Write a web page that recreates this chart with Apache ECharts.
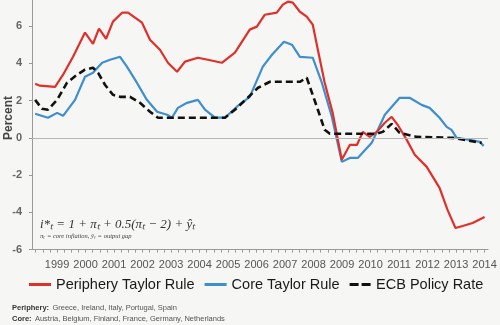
<!DOCTYPE html>
<html><head><meta charset="utf-8">
<script src="https://cdn.jsdelivr.net/npm/echarts@6/dist/echarts.min.js"></script>
<style>html,body{margin:0;padding:0;background:#f6f6f4}#c{width:500px;height:325px}</style>
</head><body><div id="c"></div><script>
// x = fractional year, y = percent
const yearLabels = [1999,2000,2001,2002,2003,2004,2005,2006,2007,2008,2009,2010,2011,2012,2013,2014];
const yTickLabels = [-6,-4,-2,0,2,4,6];
const seriesNames = ['Periphery Taylor Rule','Core Taylor Rule','ECB Policy Rate'];

const peripheryT = [1998.23,1998.40,1998.93,1999.21,1999.56,1999.98,2000.26,2000.47,2000.72,2000.96,2001.28,2001.49,2001.98,2002.26,2002.61,2002.89,2003.21,2003.49,2003.94,2004.29,2004.78,2005.24,2005.76,2006.01,2006.29,2006.71,2006.92,2007.10,2007.27,2007.52,2007.76,2007.97,2008.15,2008.39,2008.67,2008.99,2009.27,2009.52,2009.73,2009.97,2010.22,2010.50,2010.74,2010.95,2011.27,2011.55,2011.97,2012.42,2012.70,2012.98,2013.23,2013.58,2014.00];
const peripheryV = [2.90,2.80,2.74,3.39,4.35,5.65,5.05,5.86,5.32,6.24,6.72,6.72,6.18,5.27,4.73,4.03,3.55,4.09,4.30,4.19,4.03,4.57,5.81,5.97,6.61,6.72,7.15,7.31,7.26,6.77,6.51,6.08,4.73,2.96,1.34,-1.18,-0.38,-0.38,0.32,0.05,0.32,0.81,1.13,0.70,-0.11,-0.91,-1.56,-2.69,-3.87,-4.84,-4.73,-4.57,-4.25];

const coreT = [1998.23,1998.68,1999.00,1999.21,1999.63,1999.98,2000.26,2000.58,2000.86,2001.21,2001.45,2001.80,2002.15,2002.51,2002.86,2003.03,2003.24,2003.56,2003.94,2004.19,2004.54,2004.89,2005.31,2005.76,2006.22,2006.54,2006.96,2007.24,2007.52,2007.97,2008.29,2008.64,2008.99,2009.27,2009.55,2010.04,2010.50,2011.02,2011.37,2011.79,2012.07,2012.42,2012.67,2012.84,2013.02,2013.48,2013.83,2013.97];
const coreV = [1.29,1.08,1.34,1.18,2.04,3.28,3.49,4.03,4.19,4.35,3.82,2.96,2.04,1.40,1.24,1.08,1.61,1.88,2.04,1.51,1.08,1.08,1.67,2.20,3.82,4.46,5.16,5.00,4.35,4.30,2.96,1.13,-1.29,-1.08,-1.08,-0.27,1.24,2.15,2.15,1.77,1.61,1.08,0.59,0.43,0.00,-0.11,-0.22,-0.43];

const ecbT = [1998.23,1998.47,1998.68,1999.00,1999.35,1999.70,1999.98,2000.26,2000.44,2000.68,2000.96,2001.21,2001.56,2001.91,2002.26,2002.54,2004.89,2005.24,2005.69,2006.05,2006.47,2007.52,2007.76,2007.87,2008.15,2008.39,2008.57,2010.22,2010.43,2010.74,2011.02,2011.62,2012.88,2013.90];
const ecbV = [2.04,1.56,1.51,2.04,2.96,3.39,3.66,3.76,3.49,2.85,2.31,2.20,2.20,1.88,1.40,1.08,1.08,1.51,2.15,2.69,3.01,3.01,3.23,2.74,1.51,0.43,0.22,0.22,0.32,0.75,0.27,0.05,0.00,-0.27];

const zip = (t, v) => t.map((x, i) => [x, v[i]]);
const quarterTicks = [];
for (let q = 1998.25; q <= 2014.01; q += 0.25) quarterTicks.push(+q.toFixed(2));

const chart = echarts.init(document.getElementById('c'), null, {renderer: 'canvas'});
chart.setOption({
  animation: false,
  backgroundColor: '#f6f6f4',
  grid: {left: 32, right: 12, top: 0, bottom: 75.4},
  xAxis: {
    type: 'value', min: 1998.12, max: 2014.12,
    axisLine: {onZero: false, lineStyle: {color: '#9a9a9a', width: 1}},
    axisTick: {customValues: quarterTicks, length: 3, lineStyle: {color: '#9a9a9a'}},
    axisLabel: {customValues: yearLabels, formatter: v => String(Math.round(v)), color: '#555', fontFamily: 'Liberation Sans', fontSize: 11, margin: 10},
    splitLine: {show: false}
  },
  yAxis: {
    type: 'value', min: -6, max: 7.4,
    axisLine: {show: true, lineStyle: {color: '#9a9a9a', width: 1}},
    axisTick: {show: true, customValues: yTickLabels, length: 3, lineStyle: {color: '#9a9a9a'}},
    axisLabel: {customValues: yTickLabels, color: '#666', fontFamily: 'Liberation Sans', fontWeight: 'bold', fontSize: 11, margin: 10},
    splitLine: {show: false}
  },
  legend: {
    data: [
      {name: seriesNames[0], icon: 'path://M0,0h22v3h-22z'},
      {name: seriesNames[1], icon: 'path://M0,0h22v3h-22z'},
      {name: seriesNames[2], icon: 'path://M0,0h9v3h-9z M12,0h9v3h-9z'}
    ],
    left: 29, top: 277, width: 471, itemWidth: 22, itemHeight: 3, itemGap: 10, padding: 0,
    textStyle: {fontFamily: 'Liberation Sans', fontSize: 14.5, color: '#1a1a1a'}
  },
  series: [
    {name: seriesNames[0], type: 'line', data: zip(peripheryT, peripheryV), symbol: 'none', z: 3,
     lineStyle: {color: '#e0302b', width: 2.2}, itemStyle: {color: '#e0302b'}},
    {name: seriesNames[1], type: 'line', data: zip(coreT, coreV), symbol: 'none', z: 2,
     lineStyle: {color: '#3f8fcf', width: 2.2}, itemStyle: {color: '#3f8fcf'},
     markLine: {silent: true, symbol: 'none', label: {show: false}, lineStyle: {color: '#b5b5b5', width: 1, type: 'solid'}, data: [{yAxis: 0}]}},
    {name: seriesNames[2], type: 'line', data: zip(ecbT, ecbV), symbol: 'none', z: 4,
     lineStyle: {color: '#111', width: 2.6, type: [7, 4]}, itemStyle: {color: '#111'}}
  ],
  graphic: [
    {type: 'text', left: 3, top: 96, rotation: Math.PI/2, originX: 0, originY: 0,
     style: {text: 'Percent', font: 'bold 12px "Liberation Sans"', fill: '#444'}},
    {type: 'text', x: 40, y: 218,
     style: {text: 'i*ₜ = 1 + πₜ + 0.5(πₜ − 2) + ŷₜ', font: 'italic 13px "Liberation Serif"', fill: '#333'}},
    {type: 'text', x: 40, y: 233,
     style: {text: 'πₜ = core inflation, ŷₜ = output gap', font: 'italic 6.5px "Liberation Serif"', fill: '#444'}},
    {type: 'text', x: 12, y: 302,
     style: {rich: {b: {font: 'bold 7.5px "Liberation Sans"', fill: '#333'}, n: {font: '7.5px "Liberation Sans"', fill: '#555'}},
             text: '{b|Periphery:} {n|Greece, Ireland, Italy, Portugal, Spain}'}},
    {type: 'text', x: 12, y: 313,
     style: {rich: {b: {font: 'bold 7.5px "Liberation Sans"', fill: '#333'}, n: {font: '7.5px "Liberation Sans"', fill: '#555'}},
             text: '{b|Core:} {n|Austria, Belgium, Finland, France, Germany, Netherlands}'}}
  ]
});
</script></body></html>
